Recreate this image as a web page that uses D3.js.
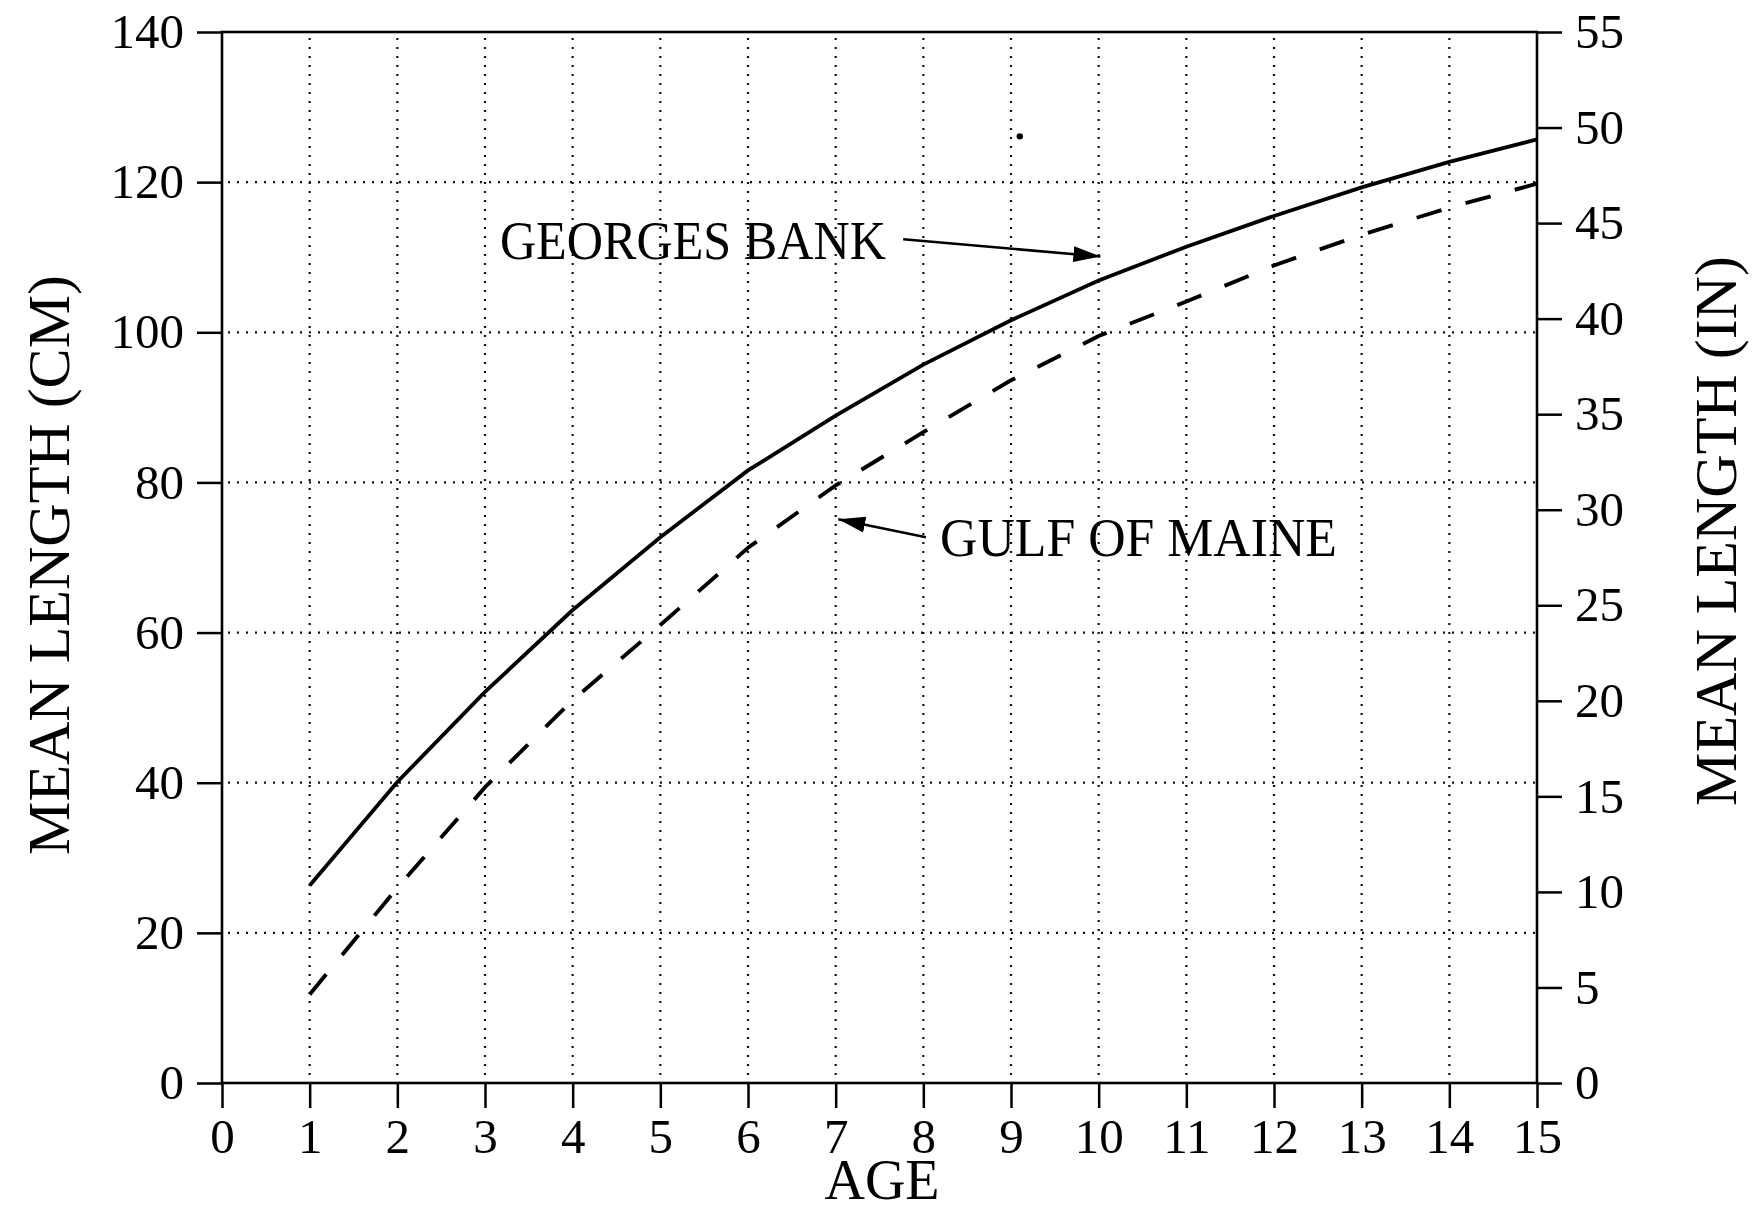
<!DOCTYPE html>
<meta charset="utf-8">
<head>
  <title>Mean length at age</title>
  <script src="https://d3js.org/d3.v7.min.js"></script>
  <style>
    body { margin: 0; background: #fff; }
    text { font-family: "Liberation Serif", "Times New Roman", serif; fill: #000; }
  </style>
</head>
<body>
<div id="chart"></div>
<script>

// data
var ages = [1, 2, 3, 4, 5, 6, 7, 8, 9, 10, 11, 12, 13, 14, 15];
var georgesBank = [26.3, 40.1, 52.1, 63.0, 72.7, 81.6, 88.9, 95.7, 101.6, 106.9, 111.4, 115.5, 119.3, 122.7, 125.7];
var gulfOfMaine = [11.8, 26.0, 39.4, 51.0, 61.0, 71.3, 79.6, 86.7, 93.6, 99.5, 104.1, 108.9, 113.0, 116.6, 119.8];

var xTicks = d3.range(0, 16);
var cmTicks = [0, 20, 40, 60, 80, 100, 120, 140];
var inTicks = [0, 5, 10, 15, 20, 25, 30, 35, 40, 45, 50, 55];
var xGrid = d3.range(1, 15);
var yGrid = [20, 40, 60, 80, 100, 120];

// annotations (in data units)
var labels = [
  {text: "GEORGES BANK", age: 3.17, cm: 109.7, len: 386},
  {text: "GULF OF MAINE", age: 8.19, cm: 70.2, len: 397}
];
var arrows = [
  {from: [7.77, 112.4], to: [10.02, 110.1]},
  {from: [8.03, 72.7], to: [7.03, 75.1]}
];
var specks = [[9.10, 126.1]];

// set the dimensions
var W = 1754, H = 1212;
var margin = {top: 32, right: 217, bottom: 129, left: 222};

var svg = d3.select("#chart")
  .append("svg")
  .attr("width", W)
  .attr("height", H);

var x = d3.scaleLinear().domain([0, 15]).range([margin.left, W - margin.right]);
var y = d3.scaleLinear().domain([0, 140]).range([H - margin.bottom, margin.top]);
var yIn = d3.scaleLinear().domain([0, 55]).range([H - margin.bottom, margin.top]);

// dotted grid
var grid = svg.append("g")
  .attr("stroke", "#111")
  .attr("stroke-width", 2.2)
  .attr("stroke-dasharray", "2,7");
grid.selectAll(".vg").data(xGrid).enter().append("line")
  .attr("x1", d => x(d)).attr("x2", d => x(d))
  .attr("y1", y(140) + 6).attr("y2", y(0));
grid.selectAll(".hg").data(yGrid).enter().append("line")
  .attr("y1", d => y(d)).attr("y2", d => y(d))
  .attr("x1", x(0) + 6).attr("x2", x(15));

// axes
var fontTick = "49px";
var gx = svg.append("g")
  .attr("transform", "translate(0," + y(0) + ")")
  .call(d3.axisBottom(x).tickValues(xTicks).tickSize(25).tickPadding(8).tickSizeOuter(0));
var gl = svg.append("g")
  .attr("transform", "translate(" + x(0) + ",0)")
  .call(d3.axisLeft(y).tickValues(cmTicks).tickSize(25).tickPadding(13).tickSizeOuter(0));
var gr = svg.append("g")
  .attr("transform", "translate(" + x(15) + ",0)")
  .call(d3.axisRight(yIn).tickValues(inTicks).tickSize(25).tickPadding(13).tickSizeOuter(0));

[gx, gl, gr].forEach(function(g) {
  g.select(".domain").remove();
  g.selectAll(".tick line").attr("stroke", "#000").attr("stroke-width", 2.5);
  g.selectAll(".tick text")
    .style("font-family", "'Liberation Serif', serif")
    .style("font-size", fontTick)
    .attr("fill", "#000");
});
gx.selectAll(".tick text").attr("dy", "0.76em");

// frame
svg.append("rect")
  .attr("x", x(0)).attr("y", y(140))
  .attr("width", x(15) - x(0))
  .attr("height", y(0) - y(140))
  .attr("fill", "none")
  .attr("stroke", "#000")
  .attr("stroke-width", 2.6);

// curves
var line = d3.line()
  .x(d => x(d[0]))
  .y(d => y(d[1]));

svg.append("path")
  .datum(d3.zip(ages, georgesBank))
  .attr("d", line)
  .attr("fill", "none")
  .attr("stroke", "#000")
  .attr("stroke-width", 3.8);

svg.append("path")
  .datum(d3.zip(ages, gulfOfMaine))
  .attr("d", line)
  .attr("fill", "none")
  .attr("stroke", "#000")
  .attr("stroke-width", 3.9)
  .attr("stroke-dasharray", "26,25");

// arrowhead marker
svg.append("defs").append("marker")
  .attr("id", "head")
  .attr("markerUnits", "userSpaceOnUse")
  .attr("markerWidth", 30).attr("markerHeight", 20)
  .attr("viewBox", "0 -10 30 20")
  .attr("refX", 27).attr("refY", 0)
  .attr("orient", "auto")
  .append("path")
  .attr("d", "M0,-8L27,0L0,8Z")
  .attr("fill", "#000");

svg.selectAll(".arrow").data(arrows).enter().append("line")
  .attr("x1", d => x(d.from[0])).attr("y1", d => y(d.from[1]))
  .attr("x2", d => x(d.to[0])).attr("y2", d => y(d.to[1]))
  .attr("stroke", "#000")
  .attr("stroke-width", 2.6)
  .attr("marker-end", "url(#head)");

svg.selectAll(".lab").data(labels).enter().append("text")
  .attr("x", d => x(d.age))
  .attr("y", d => y(d.cm))
  .attr("textLength", d => d.len)
  .attr("lengthAdjust", "spacingAndGlyphs")
  .style("font-size", "54px")
  .text(d => d.text);

svg.selectAll(".speck").data(specks).enter().append("circle")
  .attr("cx", d => x(d[0])).attr("cy", d => y(d[1]))
  .attr("r", 3.2)
  .attr("fill", "#000");

// axis titles
svg.append("text")
  .attr("x", 882)
  .attr("y", 1199)
  .attr("text-anchor", "middle")
  .style("font-size", "56px")
  .text("AGE");

svg.append("text")
  .attr("transform", "translate(69,565) rotate(-90)")
  .attr("text-anchor", "middle")
  .style("font-size", "60px")
  .text("MEAN LENGTH (CM)");

svg.append("text")
  .attr("transform", "translate(1736,531) rotate(-90)")
  .attr("text-anchor", "middle")
  .style("font-size", "60px")
  .text("MEAN LENGTH (IN)");

</script>
</body>
